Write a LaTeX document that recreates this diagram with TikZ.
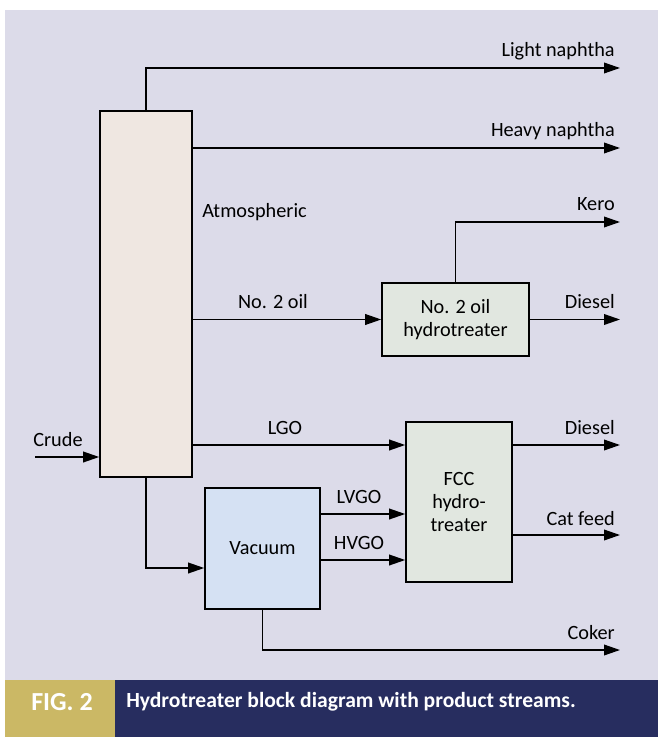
\documentclass[tikz,border=0pt]{standalone}
\usepackage{fontspec}
\setmainfont{Carlito}
\usepackage{xcolor}
\usepackage{tikz}
\usetikzlibrary{arrows.meta,positioning}
\definecolor{panel}{HTML}{DCDBE9}
\definecolor{colfill}{HTML}{EFE7E1}
\definecolor{htfill}{HTML}{E1E7E0}
\definecolor{vacfill}{HTML}{D5E1F3}
\definecolor{capnavy}{HTML}{272D5F}
\definecolor{capgold}{HTML}{CBB865}
\newcommand{\strm}{\fontsize{15.2}{17.5}\selectfont}
\tikzset{
  unit/.style={draw=black, line width=1.2pt, fill=#1, align=center,
               font=\strm, inner sep=0pt},
  flow/.style={-{Triangle[length=12pt,width=8pt]}, line width=1.1pt},
  lbl/.style={font=\strm, inner sep=0pt},
  caption/.style={font=\fontsize{16.2}{19}\selectfont\bfseries, text=white, inner sep=0pt}
}

\begin{document}
\begin{tikzpicture}[x=0.75pt, y=-0.75pt]
  \useasboundingbox (0,0) rectangle (658,737);
  \fill[white] (0,0) rectangle (658,737);
  \fill[panel] (5,10) rectangle (658,680);
  \fill[capgold] (5,680) rectangle (115,737);
  \fill[capnavy] (115,680) rectangle (658,737);

  % units
  \node[unit=colfill, minimum width=69pt, minimum height=274.5pt] (atm) at (146,294) {};
  \node[unit=htfill, minimum width=110.25pt, minimum height=54.75pt] (nohdt) at (455.5,319.5)
    {No. 2 oil\\hydrotreater};
  \node[unit=htfill, minimum width=79.5pt, minimum height=120pt] (fcc) at (459,502)
    {FCC\\hydro-\\treater};
  \node[unit=vacfill, minimum width=86.25pt, minimum height=90.75pt] (vac) at (262.5,548.5)
    {Vacuum};

  % stream levels
  \coordinate (out) at (620,0);
  \coordinate (crude) at (35,457);
  \coordinate (ln) at (620,68);
  \coordinate (hn) at (0,148);
  \coordinate (kero) at (620,222);
  \coordinate (lgo) at (0,445);
  \coordinate (lvgo) at (0,514);
  \coordinate (cat) at (0,535);
  \coordinate (hvgo) at (0,560);
  \coordinate (vfeed) at (0,568);
  \coordinate (coker) at (620,650);

  \draw[flow] (crude) -- (atm.west |- crude);
  \draw[flow] (atm.north) |- (ln);
  \draw[flow] (atm.east |- hn) -- (out |- hn);
  \draw[flow] (atm.east |- nohdt.west) -- (nohdt.west);
  \draw[flow] (nohdt.north) |- (kero);
  \draw[flow] (nohdt.east) -- (out |- nohdt.east);
  \draw[flow] (atm.east |- lgo) -- (fcc.west |- lgo);
  \draw[flow] (fcc.east |- lgo) -- (out |- lgo);
  \draw[flow] (fcc.east |- cat) -- (out |- cat);
  \draw[flow] (atm.south) |- (vac.west |- vfeed);
  \draw[flow] (vac.east |- lvgo) -- (fcc.west |- lvgo);
  \draw[flow] (vac.east |- hvgo) -- (fcc.west |- hvgo);
  \draw[flow] (vac.south) |- (coker);

  % stream labels
  \node[lbl, anchor=base] (crudelbl) at (58,446) {Crude};
  \node[lbl, anchor=base west] (atmlbl) at (202,218) {Atmospheric};
  \node[lbl, anchor=base east] (lnlbl) at (615,57) {Light naphtha};
  \node[lbl, anchor=base east] (hnlbl) at (615,137) {Heavy naphtha};
  \node[lbl, anchor=base east] (kerolbl) at (615,211) {Kero};
  \node[lbl, anchor=base] (no2lbl) at (273,309) {No. 2 oil};
  \node[lbl, anchor=base east] (dsllbl) at (615,309) {Diesel};
  \node[lbl, anchor=base] (lgolbl) at (285,434) {LGO};
  \node[lbl, anchor=base east] (dsl2lbl) at (615,434) {Diesel};
  \node[lbl, anchor=base east] (catlbl) at (615,525) {Cat feed};
  \node[lbl, anchor=base] (lvgolbl) at (359,503) {LVGO};
  \node[lbl, anchor=base] (hvgolbl) at (359,549) {HVGO};
  \node[lbl, anchor=base east] (cokerlbl) at (615,639) {Coker};

  % caption band
  \node[caption, font=\fontsize{19.5}{22}\selectfont\bfseries] (fig) at (62,702) {FIG. 2};
  \node[caption, anchor=west] (captxt) at (126,702)
    {Hydrotreater block diagram with product streams.};
\end{tikzpicture}
\end{document}
